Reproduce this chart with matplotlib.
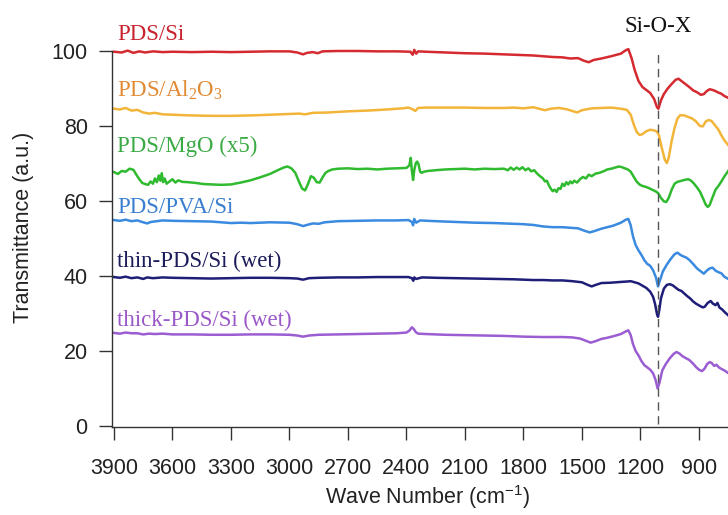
import numpy as np
import matplotlib
matplotlib.use("Agg")
import matplotlib.pyplot as plt

plt.rcParams['font.family'] = ['Liberation Sans', 'DejaVu Sans']

# ---- data (wave number in cm-1, transmittance a.u.) ----
si_wn = [3900, 3860, 3830, 3800, 3770, 3740, 3700, 3650, 3600, 3500, 3400, 3300, 3200, 3100, 3000,
         2960, 2930, 2910, 2880, 2855, 2830, 2750, 2650, 2550, 2450, 2380, 2368, 2360, 2350, 2340,
         2300, 2200, 2100, 2000, 1900, 1800, 1750, 1700, 1650, 1600, 1560, 1520, 1490, 1465, 1440,
         1400, 1350, 1300, 1275, 1262, 1245, 1230, 1210, 1190, 1170, 1150, 1130, 1115, 1108, 1095,
         1080, 1060, 1040, 1020, 1005, 990, 970, 950, 930, 910, 890, 875, 860, 845, 830, 815, 800,
         785, 770, 750]
si_t = [99.8, 99.6, 100.1, 99.5, 99.9, 99.6, 99.9, 99.7, 99.8, 99.7, 99.8, 99.7, 99.8, 99.9, 99.9,
        99.6, 99.1, 99.5, 99.7, 99.4, 99.9, 100.0, 100.0, 99.9, 99.9, 99.8, 99.0, 100.3, 99.3, 99.9,
        99.8, 99.6, 99.4, 99.3, 99.1, 98.9, 98.8, 98.6, 98.4, 98.3, 98.0, 98.1, 97.4, 97.0, 97.6,
        98.0, 98.6, 99.3, 100.2, 100.5, 98.0, 95.0, 92.0, 90.4, 89.6, 88.8, 87.2, 85.0, 84.6, 86.8,
        88.5, 90.0, 91.2, 92.3, 92.6, 92.0, 91.2, 90.4, 89.5, 89.0, 88.3, 88.5, 89.3, 89.8, 89.6, 89.3, 88.9,
        88.6, 88.0, 87.5]

al_wn = [3900, 3870, 3840, 3810, 3780, 3750, 3720, 3690, 3650, 3600, 3500, 3400, 3300, 3200, 3100,
         3000, 2950, 2920, 2880, 2800, 2700, 2600, 2500, 2420, 2390, 2370, 2355, 2340, 2300, 2200,
         2100, 2000, 1900, 1850, 1800, 1750, 1720, 1690, 1660, 1620, 1580, 1550, 1525, 1500, 1450,
         1400, 1350, 1300, 1270, 1250, 1235, 1220, 1205, 1190, 1170, 1150, 1130, 1115, 1105, 1090,
         1075, 1065, 1055, 1040, 1025, 1010, 995, 975, 955, 935, 915, 895, 880, 865, 850, 835, 815,
         800, 785, 770, 750]
al_t = [84.6, 84.4, 84.8, 84.1, 84.3, 83.6, 83.3, 83.5, 83.1, 83.0, 82.8, 82.7, 82.7, 82.8, 83.0,
        83.2, 83.3, 83.1, 83.5, 83.6, 83.9, 84.1, 84.4, 84.7, 84.9, 84.5, 84.0, 84.8, 84.9, 84.9,
        84.9, 84.8, 84.8, 84.9, 84.7, 85.0, 84.6, 84.2, 84.6, 84.8, 84.5, 84.0, 83.6, 84.2, 84.7,
        84.8, 84.9, 84.6, 84.3, 83.0, 80.5, 78.5, 77.6, 77.8, 78.6, 79.0, 78.8, 78.5, 77.5, 74.0,
        71.0, 70.1, 71.5, 76.0, 79.5, 82.0, 82.9, 82.8, 82.4, 82.0, 81.2, 80.0, 79.9, 81.2, 81.6, 81.3, 80.0,
        79.0, 77.5, 76.2, 74.9]

mgo_wn = [3900, 3880, 3860, 3840, 3820, 3800, 3785, 3770, 3755, 3740, 3725, 3712, 3700, 3690, 3680,
          3670, 3662, 3655, 3648, 3640, 3630, 3615, 3600, 3585, 3570, 3550, 3520, 3480, 3440, 3400,
          3350, 3300, 3250, 3200, 3150, 3100, 3060, 3030, 3010, 2990, 2970, 2950, 2935, 2920, 2905,
          2890, 2875, 2860, 2845, 2830, 2815, 2800, 2780, 2750, 2700, 2650, 2600, 2550, 2500, 2450,
          2400, 2385, 2378, 2372, 2366, 2360, 2352, 2345, 2338, 2330, 2322, 2310, 2290, 2250, 2200,
          2150, 2100, 2050, 2000, 1950, 1900, 1880, 1865, 1850, 1835, 1820, 1805, 1790, 1775, 1760,
          1745, 1730, 1715, 1700, 1690, 1680, 1670, 1660, 1650, 1640, 1630, 1620, 1610, 1600, 1590,
          1580, 1570, 1560, 1550, 1540, 1525, 1510, 1495, 1480, 1465, 1450, 1430, 1410, 1390, 1370,
          1350, 1330, 1310, 1295, 1280, 1265, 1250, 1235, 1220, 1205, 1190, 1175, 1160, 1140, 1120,
          1108, 1095, 1080, 1068, 1055, 1040, 1025, 1010, 995, 975, 955, 940, 925, 910, 895,
          880, 865, 855, 845, 830, 815, 800, 785, 770, 750]
mgo_t = [67.7, 67.2, 68.0, 67.8, 68.6, 68.3, 67.0, 65.8, 64.8, 64.5, 64.3, 65.2, 64.6, 66.0, 65.0,
         66.8, 65.4, 67.4, 65.0, 66.0, 64.6, 65.2, 65.8, 64.9, 65.5, 65.1, 65.0, 64.8, 64.5, 64.4,
         64.3, 64.4, 64.9, 65.5, 66.3, 67.2, 68.2, 68.9, 69.2, 68.7, 67.5, 65.0, 63.3, 62.8, 64.5,
         66.6, 66.2, 65.0, 64.9, 66.3, 67.5, 68.0, 68.4, 68.6, 68.7, 68.5, 68.6, 68.4, 68.6, 68.7,
         68.8, 69.5, 71.5, 68.0, 65.6, 68.2, 70.1, 70.5, 69.8, 67.8, 67.5, 67.8, 68.0, 68.2, 68.4,
         68.5, 68.6, 68.4, 68.6, 68.5, 68.6, 68.2, 68.9, 68.3, 68.9, 68.4, 69.0, 68.2, 68.7, 67.9,
         68.2, 67.3, 66.6, 66.0, 65.2, 65.4, 64.2, 63.3, 62.6, 63.0, 62.4, 63.4, 63.2, 64.6, 64.0,
         65.0, 64.4, 65.2, 64.7, 65.4, 64.9, 65.8, 66.4, 66.0, 67.0, 66.6, 67.3, 67.5, 67.9, 68.4,
         68.6, 68.9, 69.2, 69.0, 68.7, 68.4, 67.8, 66.5, 65.2, 64.4, 64.0, 63.8, 63.5, 63.0, 62.5,
         62.0, 60.8, 59.9, 59.7, 60.8, 63.0, 64.6, 65.1, 65.3, 65.6, 65.8, 65.4, 64.6, 63.6, 62.5,
         60.8, 59.0, 58.4, 58.9, 61.0, 63.0, 64.0, 65.2, 66.5, 68.0]

pva_wn = [3900, 3870, 3840, 3810, 3780, 3750, 3730, 3710, 3680, 3650, 3600, 3500, 3400, 3350, 3300,
          3250, 3200, 3100, 3000, 2960, 2930, 2910, 2880, 2850, 2820, 2750, 2650, 2550, 2450, 2390,
          2372, 2366, 2360, 2350, 2330, 2250, 2150, 2050, 1950, 1850, 1800, 1750, 1700, 1650, 1600,
          1550, 1520, 1490, 1460, 1440, 1400, 1370, 1340, 1300, 1275, 1262, 1250, 1238, 1225, 1210,
          1195, 1180, 1165, 1150, 1135, 1120, 1110, 1100, 1085, 1065, 1045, 1025, 1010, 995, 980,
          965, 950, 930, 910, 890, 875, 860, 845, 830, 815, 800, 785, 770, 750]
pva_t = [54.9, 54.7, 55.0, 54.6, 54.8, 54.3, 54.0, 54.4, 54.6, 54.8, 54.7, 54.6, 54.5, 54.3, 54.1,
         54.2, 54.1, 54.3, 54.2, 53.8, 53.3, 53.6, 54.0, 53.9, 54.3, 54.6, 54.7, 54.8, 54.8, 54.9,
         54.4, 53.5, 55.2, 54.2, 54.8, 54.6, 54.4, 54.2, 54.1, 53.9, 53.8, 53.6, 53.2, 53.0, 53.0,
         52.8, 52.7, 52.1, 51.6, 51.9, 52.6, 53.0, 53.4, 54.2, 55.0, 55.2, 53.5, 50.5, 48.3, 46.8,
         45.6, 44.2, 43.2, 42.7, 41.5, 39.5, 37.2, 38.8, 41.2, 43.0, 44.5, 45.8, 46.2, 45.6, 45.2,
         44.9, 44.3, 43.2, 42.0, 41.2, 40.6, 41.4, 42.0, 42.2, 41.4, 41.0, 40.7, 39.8, 39.2]

thin_wn = [3900, 3870, 3840, 3810, 3780, 3750, 3730, 3700, 3650, 3600, 3500, 3400, 3300, 3200, 3100,
           3000, 2960, 2930, 2900, 2850, 2750, 2650, 2550, 2450, 2390, 2372, 2365, 2360, 2350, 2320,
           2250, 2150, 2050, 1950, 1850, 1750, 1700, 1650, 1600, 1550, 1500, 1470, 1450, 1430, 1400,
           1350, 1300, 1270, 1250, 1230, 1210, 1190, 1170, 1150, 1135, 1125, 1115, 1110, 1103, 1095,
           1080, 1065, 1050, 1035, 1020, 1005, 990, 975, 960, 945, 930, 915, 895, 880, 870, 855,
           840, 828, 815, 805, 795, 780, 765, 750]
thin_t = [39.7, 39.5, 39.8, 39.4, 39.6, 39.2, 39.6, 39.4, 39.6, 39.5, 39.4, 39.3, 39.4, 39.5, 39.5,
          39.4, 39.3, 39.0, 39.4, 39.5, 39.6, 39.6, 39.7, 39.7, 39.7, 39.4, 38.7, 39.6, 39.2, 39.6,
          39.5, 39.4, 39.3, 39.2, 39.1, 38.9, 38.9, 38.8, 38.8, 38.6, 38.3, 37.6, 37.2, 37.6, 38.1,
          38.2, 38.4, 38.5, 38.6, 38.3, 38.0, 37.4, 36.8, 35.8, 34.4, 32.5, 29.8, 29.1, 31.0, 34.0,
          36.6, 37.6, 37.8, 37.5, 36.9, 36.3, 36.0, 35.3, 34.6, 34.0, 33.2, 32.6, 32.0, 31.6, 31.8, 32.8,
          33.3, 32.6, 32.2, 32.8, 31.6, 31.0, 30.2, 29.5]

thick_wn = [3900, 3870, 3840, 3810, 3780, 3750, 3720, 3690, 3650, 3600, 3500, 3400, 3300, 3200, 3100,
            3000, 2960, 2930, 2900, 2850, 2750, 2650, 2550, 2450, 2400, 2385, 2372, 2362, 2352, 2340,
            2300, 2200, 2100, 2000, 1900, 1800, 1700, 1600, 1550, 1510, 1480, 1455, 1430, 1400, 1370,
            1340, 1300, 1275, 1262, 1250, 1238, 1225, 1210, 1195, 1180, 1165, 1150, 1135, 1122, 1112,
            1102, 1088, 1070, 1050, 1030, 1015, 1000, 985, 965, 950, 930, 915, 900, 885, 872, 858,
            845, 835, 822, 810, 798, 785, 770, 750]
thick_t = [24.8, 24.6, 24.9, 24.7, 24.7, 24.4, 24.6, 24.5, 24.6, 24.4, 24.4, 24.3, 24.3, 24.4, 24.4,
           24.3, 24.1, 23.8, 24.1, 24.3, 24.4, 24.5, 24.6, 24.7, 24.9, 25.4, 26.3, 25.8, 25.0, 24.6,
           24.5, 24.3, 24.2, 24.1, 24.0, 23.8, 23.7, 23.7, 23.6, 23.3, 22.7, 22.2, 22.6, 23.2, 23.5,
           23.9, 24.5, 25.2, 25.5, 24.2, 21.8, 20.0, 18.8, 17.3, 16.2, 15.6, 15.0, 14.0, 12.2, 10.0,
           11.6, 14.8, 16.5, 18.0, 19.2, 19.7, 19.3, 18.6, 18.0, 17.6, 16.6, 15.7, 15.0, 14.6, 15.2, 16.5,
           17.0, 16.8, 16.0, 16.3, 15.6, 15.2, 14.8, 14.1]

labels = ['PDS/Si', r'PDS/Al$\mathregular{_2}$O$\mathregular{_3}$', 'PDS/MgO (x5)',
          'PDS/PVA/Si', 'thin-PDS/Si (wet)', 'thick-PDS/Si (wet)']
si_o_x = 1110
xticks = [3900, 3600, 3300, 3000, 2700, 2400, 2100, 1800, 1500, 1200, 900]
yticks = [0, 20, 40, 60, 80, 100]

series = [(si_wn, si_t), (al_wn, al_t), (mgo_wn, mgo_t),
          (pva_wn, pva_t), (thin_wn, thin_t), (thick_wn, thick_t)]
line_colors = ['#d42a30', '#f2b53a', '#2fba2f', '#3a8ae0', '#1e1e78', '#9b5dd2']
text_colors = ['#c8222c', '#e28a36', '#3aaa44', '#3a7fcf', '#1c1c5a', '#9a58c8']
label_y = [102.9, 87.7, 73.1, 56.8, 42.4, 26.7]

fig = plt.figure(figsize=(7.28, 5.15), dpi=100)
ax = fig.add_axes([112 / 728, 1 - 427 / 515, 1 - 112 / 728, 427 / 515])

for (wn, t), c in zip(series, line_colors):
    ax.plot(wn, t, color=c, lw=1.8, clip_on=False, solid_joinstyle='round')

for lab, c, y in zip(labels, text_colors, label_y):
    ax.text(3885, y, lab, color=c, fontsize=16.5, va='baseline', ha='left',
            family=['Liberation Serif', 'DejaVu Serif'])

ax.vlines(si_o_x, 0.5, 99.5, colors='#555555', lw=1.0, linestyles=(0, (6, 4)))
ax.text(si_o_x, 105, 'Si-O-X', fontsize=16.5, ha='center', va='baseline',
        family=['Liberation Serif', 'DejaVu Serif'], color='#111111')

ax.set_xlim(3910, 751)
ax.set_ylim(-0.3, 113.6)
ax.set_xticks(xticks)
ax.set_yticks(yticks)
for s in ['top', 'right']:
    ax.spines[s].set_visible(False)
ax.spines['left'].set_bounds(-0.3, 100)
for s in ['left', 'bottom']:
    ax.spines[s].set_color('#333333')
    ax.spines[s].set_linewidth(1.0)
ax.tick_params(direction='out', length=9.5, width=1.0, color='#333333',
               labelsize=15.5, labelcolor='#222222')
ax.tick_params(axis='x', pad=13)
ax.tick_params(axis='y', pad=8)

fig.text(24 / 728, 1 - 227 / 515, 'Transmittance (a.u.)', rotation=90,
         ha='center', va='center', fontsize=15.5, color='#222222')
fig.text(427 / 728, 1 - 497 / 515, r'Wave Number (cm$\mathregular{^{-1}}$)',
         ha='center', va='center', fontsize=15.5, color='#222222')

fig.savefig('out.png', dpi=100)
